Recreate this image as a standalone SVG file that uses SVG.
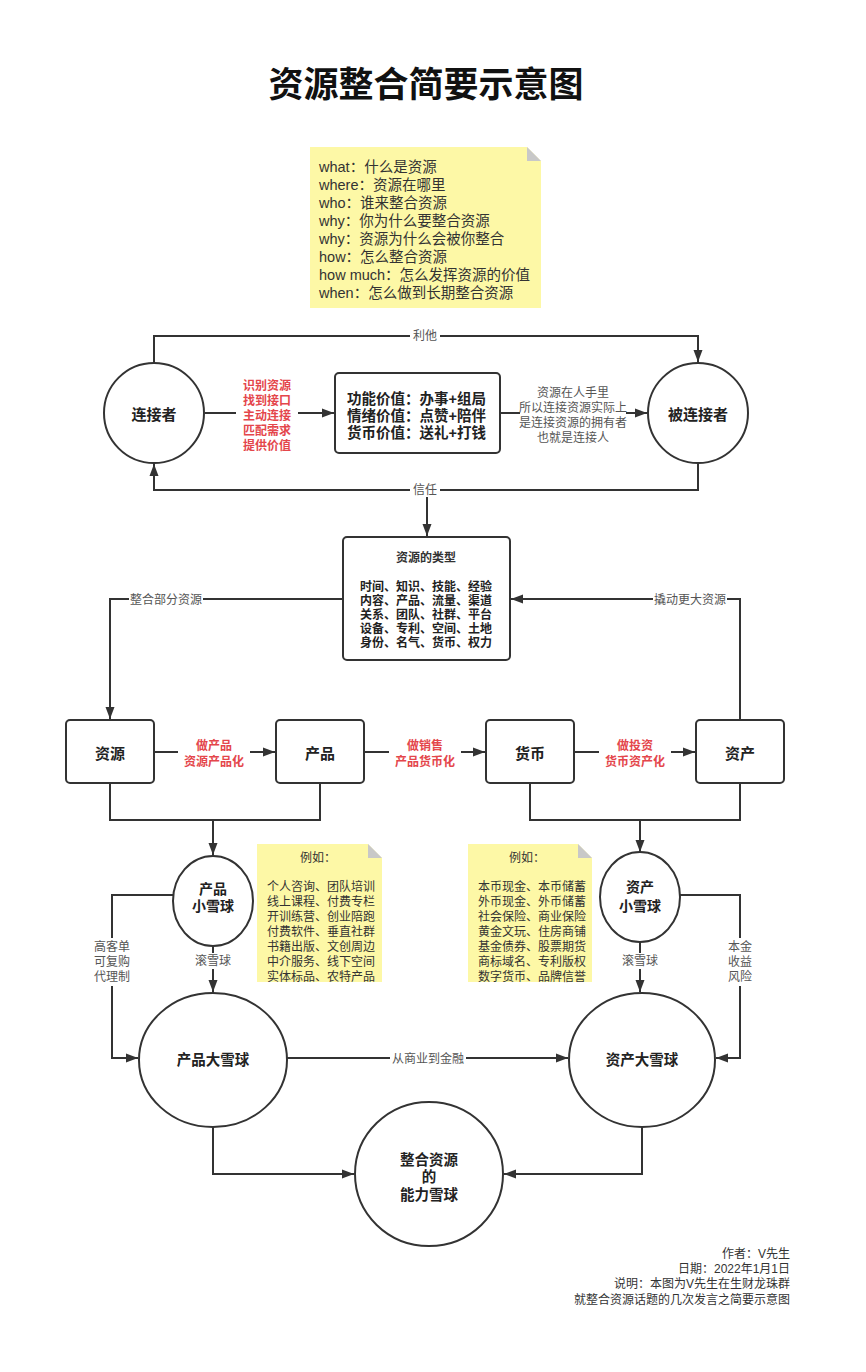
<svg xmlns="http://www.w3.org/2000/svg" width="866" height="1372" viewBox="0 0 866 1372">
<style>
.ln{fill:none;stroke:#333;stroke-width:2}
.nd{fill:#fff;stroke:#333;stroke-width:2}
text{font-family:"Liberation Sans","Noto Sans CJK SC",sans-serif;dominant-baseline:central;fill:#222}
.c{text-anchor:middle}
.b{font-weight:bold}
.red{fill:#e4464b;font-weight:bold;font-size:12px;text-anchor:middle}
.lbl{fill:#555;font-size:12px;text-anchor:middle}
.nt{fill:#333;font-size:12px}
.note{fill:#fdf8a6}
.fold{fill:#c8c8c8}
.bg{fill:#fff}
</style>
<defs>
<marker id="ah" viewBox="0 0 12 10" refX="12" refY="5" markerWidth="12" markerHeight="10" markerUnits="userSpaceOnUse" orient="auto"><path d="M0,0.5 L12,5 L0,9.5 z" fill="#333"/></marker>
</defs>
<rect width="866" height="1372" fill="#fff"/>
<text x="426" y="84" class="c b" style="font-size:35px;fill:#111">资源整合简要示意图</text>

<g id="note-questions">
<path class="note" d="M310,147 H527 L541,161 V308 H310 Z"/>
<path class="fold" d="M527,147 L541,161 H527 Z"/>
<text x="319" y="167" style="font-size:14.5px;fill:#333"><tspan x="319" y="167">what：什么是资源</tspan><tspan x="319" y="185">where：资源在哪里</tspan><tspan x="319" y="203">who：谁来整合资源</tspan><tspan x="319" y="221">why：你为什么要整合资源</tspan><tspan x="319" y="239">why：资源为什么会被你整合</tspan><tspan x="319" y="257">how：怎么整合资源</tspan><tspan x="319" y="275">how much：怎么发挥资源的价值</tspan><tspan x="319" y="293">when：怎么做到长期整合资源</tspan></text>
</g>

<g id="connectors">
<path class="ln" d="M154,363 V336 H698 V362" marker-end="url(#ah)"/>
<path class="ln" d="M698,463 V490 H154 V464" marker-end="url(#ah)"/>
<path class="ln" d="M427,490 V536" marker-end="url(#ah)"/>
<path class="ln" d="M205,413 H334" marker-end="url(#ah)"/>
<path class="ln" d="M500,413 H647" marker-end="url(#ah)"/>
<path class="ln" d="M343,599 H110 V719" marker-end="url(#ah)"/>
<path class="ln" d="M740,720 V599 H511" marker-end="url(#ah)"/>
<path class="ln" d="M154,752 H275" marker-end="url(#ah)"/>
<path class="ln" d="M364,752 H485" marker-end="url(#ah)"/>
<path class="ln" d="M574,752 H695" marker-end="url(#ah)"/>
<path class="ln" d="M110,783 V820 H320 V783"/>
<path class="ln" d="M213,820 V855" marker-end="url(#ah)"/>
<path class="ln" d="M530,783 V820 H740 V783"/>
<path class="ln" d="M640,820 V852" marker-end="url(#ah)"/>
<path class="ln" d="M175,895 H112 V1058 H138" marker-end="url(#ah)"/>
<path class="ln" d="M213,946 V992" marker-end="url(#ah)"/>
<path class="ln" d="M680,895 H740 V1058 H716" marker-end="url(#ah)"/>
<path class="ln" d="M640,942 V992" marker-end="url(#ah)"/>
<path class="ln" d="M287,1058 H568" marker-end="url(#ah)"/>
<path class="ln" d="M213,1127 V1174 H354" marker-end="url(#ah)"/>
<path class="ln" d="M642,1127 V1174 H504" marker-end="url(#ah)"/>
<rect class="bg" x="410" y="329" width="30" height="14"/>
<text x="425" y="336" class="lbl">利他</text>
<rect class="bg" x="410" y="483" width="30" height="14"/>
<text x="425" y="490" class="lbl">信任</text>
<rect class="bg" x="236" y="375" width="62" height="78"/>
<text class="red"><tspan x="267" y="386">识别资源</tspan><tspan x="267" y="401">找到接口</tspan><tspan x="267" y="416">主动连接</tspan><tspan x="267" y="431">匹配需求</tspan><tspan x="267" y="446">提供价值</tspan></text>
<rect class="bg" x="520" y="385" width="106" height="60"/>
<text class="lbl"><tspan x="573" y="393">资源在人手里</tspan><tspan x="573" y="408">所以连接资源实际上</tspan><tspan x="573" y="423">是连接资源的拥有者</tspan><tspan x="573" y="438">也就是连接人</tspan></text>
<rect class="bg" x="129" y="592" width="74" height="15"/>
<text x="166" y="600" class="lbl">整合部分资源</text>
<rect class="bg" x="653" y="592" width="74" height="15"/>
<text x="690" y="600" class="lbl">撬动更大资源</text>
<rect class="bg" x="178" y="738" width="72" height="32"/>
<text class="red"><tspan x="214" y="746">做产品</tspan><tspan x="214" y="762">资源产品化</tspan></text>
<rect class="bg" x="389" y="738" width="72" height="32"/>
<text class="red"><tspan x="425" y="746">做销售</tspan><tspan x="425" y="762">产品货币化</tspan></text>
<rect class="bg" x="599" y="738" width="72" height="32"/>
<text class="red"><tspan x="635" y="746">做投资</tspan><tspan x="635" y="762">货币资产化</tspan></text>
<rect class="bg" x="92" y="938" width="40" height="48"/>
<text class="lbl"><tspan x="112" y="947">高客单</tspan><tspan x="112" y="962">可复购</tspan><tspan x="112" y="977">代理制</tspan></text>
<rect class="bg" x="192" y="953" width="42" height="16"/>
<text x="213" y="961" class="lbl">滚雪球</text>
<rect class="bg" x="619" y="953" width="42" height="16"/>
<text x="640" y="961" class="lbl">滚雪球</text>
<rect class="bg" x="726" y="938" width="28" height="48"/>
<text class="lbl"><tspan x="740" y="947">本金</tspan><tspan x="740" y="962">收益</tspan><tspan x="740" y="977">风险</tspan></text>
<rect class="bg" x="390" y="1051" width="76" height="16"/>
<text x="428" y="1059" class="lbl">从商业到金融</text>
</g>

<g id="node-connector">
<circle class="nd" cx="154" cy="413" r="50"/>
<text x="154" y="414" class="c b" style="font-size:15px">连接者</text>
</g>
<g id="node-value">
<rect class="nd" x="335" y="373" width="165" height="80" rx="4"/>
<text class="b" style="font-size:14.5px"><tspan x="347" y="399">功能价值：办事+组局</tspan><tspan x="347" y="416">情绪价值：点赞+陪伴</tspan><tspan x="347" y="433">货币价值：送礼+打钱</tspan></text>
</g>
<g id="node-connected">
<circle class="nd" cx="698" cy="413" r="50"/>
<text x="698" y="414" class="c b" style="font-size:15px">被连接者</text>
</g>
<g id="node-types">
<rect class="nd" x="343" y="537" width="167" height="123" rx="4"/>
<text x="426" y="558" class="c b" style="font-size:12px;fill:#333">资源的类型</text>
<text class="c b" style="font-size:12px"><tspan x="426" y="587">时间、知识、技能、经验</tspan><tspan x="426" y="601">内容、产品、流量、渠道</tspan><tspan x="426" y="615">关系、团队、社群、平台</tspan><tspan x="426" y="629">设备、专利、空间、土地</tspan><tspan x="426" y="643">身份、名气、货币、权力</tspan></text>
</g>
<g id="node-resource">
<rect class="nd" x="66" y="720" width="88" height="63" rx="4"/>
<text x="110" y="753" class="c b" style="font-size:15px">资源</text>
</g>
<g id="node-product">
<rect class="nd" x="276" y="720" width="88" height="63" rx="4"/>
<text x="320" y="753" class="c b" style="font-size:15px">产品</text>
</g>
<g id="node-money">
<rect class="nd" x="486" y="720" width="88" height="63" rx="4"/>
<text x="530" y="753" class="c b" style="font-size:15px">货币</text>
</g>
<g id="node-asset">
<rect class="nd" x="696" y="720" width="88" height="63" rx="4"/>
<text x="740" y="753" class="c b" style="font-size:15px">资产</text>
</g>
<g id="node-product-small">
<ellipse class="nd" cx="213" cy="901" rx="40" ry="45"/>
<text class="c b" style="font-size:14px"><tspan x="213" y="889">产品</tspan><tspan x="213" y="906">小雪球</tspan></text>
</g>
<g id="node-asset-small">
<ellipse class="nd" cx="640" cy="897" rx="40" ry="45"/>
<text class="c b" style="font-size:14px"><tspan x="640" y="887">资产</tspan><tspan x="640" y="906">小雪球</tspan></text>
</g>
<g id="note-product">
<path class="note" d="M257,844 H368 L382,858 V982 H257 Z"/>
<path class="fold" d="M368,844 L382,858 H368 Z"/>
<text x="318" y="858" class="nt c">例如：</text>
<text class="nt"><tspan x="267" y="887">个人咨询、团队培训</tspan><tspan x="267" y="902">线上课程、付费专栏</tspan><tspan x="267" y="917">开训练营、创业陪跑</tspan><tspan x="267" y="932">付费软件、垂直社群</tspan><tspan x="267" y="947">书籍出版、文创周边</tspan><tspan x="267" y="962">中介服务、线下空间</tspan><tspan x="267" y="977">实体标品、农特产品</tspan></text>
</g>
<g id="note-asset">
<path class="note" d="M468,844 H578 L592,858 V982 H468 Z"/>
<path class="fold" d="M578,844 L592,858 H578 Z"/>
<text x="527" y="858" class="nt c">例如：</text>
<text class="nt"><tspan x="478" y="887">本币现金、本币储蓄</tspan><tspan x="478" y="902">外币现金、外币储蓄</tspan><tspan x="478" y="917">社会保险、商业保险</tspan><tspan x="478" y="932">黄金文玩、住房商铺</tspan><tspan x="478" y="947">基金债券、股票期货</tspan><tspan x="478" y="962">商标域名、专利版权</tspan><tspan x="478" y="977">数字货币、品牌信誉</tspan></text>
</g>
<g id="node-product-big">
<ellipse class="nd" cx="213" cy="1060" rx="74" ry="67"/>
<text x="213" y="1060" class="c b" style="font-size:14.5px">产品大雪球</text>
</g>
<g id="node-asset-big">
<ellipse class="nd" cx="642" cy="1060" rx="73" ry="67"/>
<text x="642" y="1060" class="c b" style="font-size:14.5px">资产大雪球</text>
</g>
<g id="node-ability">
<ellipse class="nd" cx="429" cy="1174" rx="74" ry="72"/>
<text class="c b" style="font-size:14.5px"><tspan x="429" y="1160">整合资源</tspan><tspan x="429" y="1177">的</tspan><tspan x="429" y="1195">能力雪球</tspan></text>
</g>

<g id="footer">
<text style="font-size:12px;text-anchor:end;fill:#333"><tspan x="790" y="1254">作者：V先生</tspan><tspan x="790" y="1269">日期：2022年1月1日</tspan><tspan x="790" y="1284">说明：本图为V先生在生财龙珠群</tspan><tspan x="790" y="1300">就整合资源话题的几次发言之简要示意图</tspan></text>
</g>
</svg>
